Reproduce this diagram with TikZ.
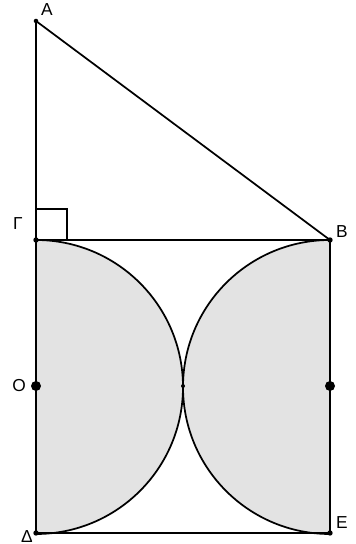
\documentclass[tikz,border=0pt]{standalone}
\usepackage{fontspec}
\setmainfont{Liberation Sans}
\begin{document}
\begin{tikzpicture}[x=0.75pt,y=0.75pt,font=\fontsize{13}{15}\selectfont,
  edge/.style={line width=1.3pt, line join=round},
  dot/.style={circle, fill=black, inner sep=0pt, minimum size=4pt},
  bigdot/.style={circle, fill=black, inner sep=0pt, minimum size=7.5pt},
  lbl/.style={inner sep=0pt}]
\useasboundingbox (0,0) rectangle (355,544);
% points of the figure
\coordinate (A) at (36,523);
\coordinate (G) at (36,304);
\coordinate (B) at (330,304);
\coordinate (D) at (36,11);
\coordinate (E) at (330,11);
\coordinate (O) at (36,158);
\coordinate (M) at (330,158);
\coordinate (K) at (183,158);
\coordinate (Q1) at (67,304);
\coordinate (Q2) at (67,335);
\coordinate (Q3) at (36,335);
% shaded half discs
\fill[gray!22] (G) arc[start angle=90, end angle=-90, radius=147] -- cycle;
\fill[gray!22] (B) arc[start angle=90, end angle=270, radius=147] -- cycle;
\draw[edge] (G) arc[start angle=90, end angle=-90, radius=147];
\draw[edge] (B) arc[start angle=90, end angle=270, radius=147];
% triangle and square
\draw[edge] (A) -- (G) -- (D) -- (E) -- (B) -- (G);
\draw[edge] (A) -- (B);
\draw[line width=1.1pt] (G) -- (Q1) -- (Q2) -- (Q3);
% points
\node[dot, minimum size=3.4pt] (a) at (A) {};
\node[dot] (g) at (G) {};
\node[dot] (b) at (B) {};
\node[dot] (d) at (D) {};
\node[dot] (e) at (E) {};
\node[bigdot] (o) at (O) {};
\node[bigdot] (m) at (M) {};
\node[dot, minimum size=3pt] (k) at (K) {};
% labels
\node[lbl] (la) at (47,534) {A};
\node[lbl] (lg) at (18,320) {Γ};
\node[lbl] (lb) at (342,312) {B};
\node[lbl] (lo) at (19,158) {O};
\node[lbl, anchor=south] (ld) at (27,1.5) {Δ};
\node[lbl] (le) at (342,21) {E};
\end{tikzpicture}
\end{document}
